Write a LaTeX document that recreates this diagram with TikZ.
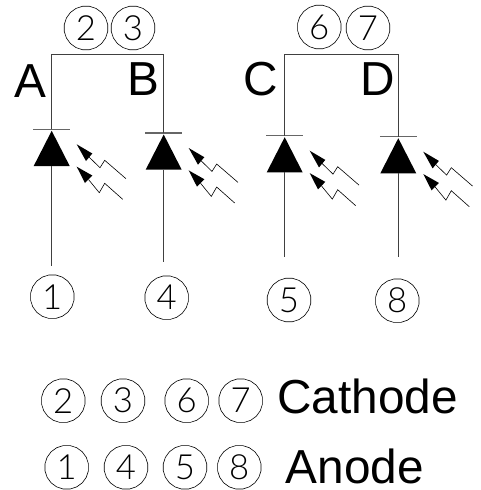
\documentclass[tikz,border=0pt]{standalone}
\usepackage{fontspec}
\setmainfont{Liberation Sans}
\newfontfamily\cadfont{Lato Light}
\usetikzlibrary{shapes.geometric}
\tikzset{
  x=0.75pt,y=-0.75pt,
  pin/.style={draw=black,line width=0.45pt,regular polygon,regular polygon sides=20,minimum size=33pt,inner sep=0pt,font=\cadfont\fontsize{26}{26}\selectfont,text=black},
  tag/.style={font=\fontsize{35.8}{35.8}\selectfont,inner sep=0pt,anchor=center},
  wire/.style={draw=black!75,line width=0.8pt},
  bar/.style={draw=black!60,line width=0.8pt},
  body/.style={fill=black,draw=none},
  ray/.style={draw=black,line width=0.45pt},
  rayhead/.style={fill=black,draw=none}
}
% #1 name, #2 x, #3 bar y, #4 wire end y
\newcommand{\ledsym}[4]{%
  \coordinate (#1top) at (#2,#3);
  \coordinate (#1end) at (#2,#4);
  \coordinate (#1base) at (#2,#3+36.7);
  \draw[bar] (#2-18.5,#3) -- (#2+18.5,#3);
  \fill[body] (#2,#3+1.5) -- (#2+18,#3+36.7) -- (#2-18,#3+36.7) -- cycle;
  \draw[wire] (#1base) -- (#1end);
  \begin{scope}[shift={(#2-51.7,#3-129.3)}]
    \draw[ray] (89,157) -- (100,167.7) -- (104.7,160.3) -- (126,178.7);
    \fill[rayhead] (76.7,144.3) -- (92.3,153.5) -- (86,161) -- cycle;
    \draw[ray] (88.5,179.5) -- (99.3,192.7) -- (104.7,183.3) -- (122.7,199.3);
    \fill[rayhead] (76.7,166.7) -- (92.3,175.5) -- (85,183) -- cycle;
  \end{scope}
}
\begin{document}
\begin{tikzpicture}
\useasboundingbox (0,0) rectangle (480,490);
\ledsym{a}{51.7}{129.3}{266}
\ledsym{b}{163.7}{133}{262}
\ledsym{c}{284.7}{135.7}{257}
\ledsym{d}{398.3}{136.7}{257}
\coordinate (abus) at (51.7,54.3);
\coordinate (bbus) at (163.7,54.3);
\coordinate (cbus) at (284.7,54.3);
\coordinate (dbus) at (398.3,54.3);
\draw[wire] (atop) -- (abus) -- (bbus) -- (btop);
\draw[wire] (ctop) -- (cbus) -- (dbus) -- (dtop);
\node[pin] (p2) at (86,28) {2};
\node[pin] (p3) at (133,28) {3};
\node[pin] (p6) at (319.3,27) {6};
\node[pin] (p7) at (368,28) {7};
\node[pin] (p1) at (52.3,296.7) {1};
\node[pin] (p4) at (166.7,297.7) {4};
\node[pin] (p5) at (289,300) {5};
\node[pin] (p8) at (397.3,300.7) {8};
\node[tag] (la) at (30,81) {A};
\node[tag] (lb) at (143,79) {B};
\node[tag] (lc) at (260.7,78.7) {C};
\node[tag] (ld) at (378,79) {D};
\node[pin] (k2) at (63.3,400.7) {2};
\node[pin] (k3) at (123,400.7) {3};
\node[pin] (k6) at (186.7,400.7) {6};
\node[pin] (k7) at (240.7,400.7) {7};
\node[pin] (n1) at (66.7,467.3) {1};
\node[pin] (n4) at (126,467.3) {4};
\node[pin] (n5) at (185,467.3) {5};
\node[pin] (n8) at (239.3,467.3) {8};
\node[tag] (cathode) at (367.5,396) {Cathode};
\node[tag] (anode) at (355,466) {Anode};
\end{tikzpicture}
\end{document}
